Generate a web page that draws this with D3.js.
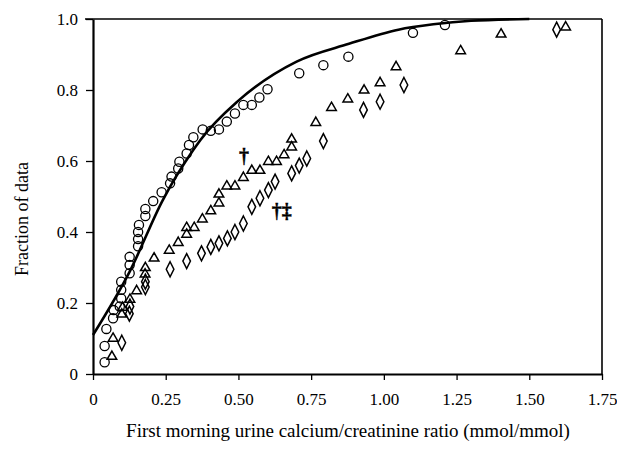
<!DOCTYPE html>
<html>
<head>
<meta charset="utf-8">
<script src="https://cdn.jsdelivr.net/npm/d3@7"></script>
<style>
  body { margin: 0; background: #fff; }
  svg { font-family: "Liberation Serif", "DejaVu Serif", serif; }
</style>
</head>
<body>
<svg id="chart" width="617" height="449"></svg>
<script>
// Data
const circleX = [0.040, 0.040, 0.046, 0.069, 0.071, 0.092, 0.097, 0.097, 0.097, 0.126, 0.126, 0.126,
  0.155, 0.155, 0.155, 0.158, 0.180, 0.180, 0.207, 0.236, 0.265, 0.270, 0.293, 0.297, 0.322, 0.330,
  0.345, 0.377, 0.405, 0.433, 0.460, 0.488, 0.517, 0.546, 0.572, 0.600, 0.709, 0.792, 0.878, 1.100, 1.210];
const circleY = [0.033, 0.079, 0.127, 0.157, 0.180, 0.190, 0.213, 0.237, 0.260, 0.284, 0.307, 0.330,
  0.360, 0.380, 0.400, 0.420, 0.445, 0.465, 0.487, 0.512, 0.537, 0.556, 0.579, 0.598, 0.621, 0.645,
  0.667, 0.689, 0.685, 0.689, 0.711, 0.734, 0.758, 0.758, 0.779, 0.802, 0.847, 0.870, 0.894, 0.961, 0.983];

const triX = [0.065, 0.069, 0.099, 0.102, 0.127, 0.150, 0.179, 0.180, 0.210, 0.262, 0.293, 0.322, 0.322,
  0.348, 0.376, 0.405, 0.433, 0.433, 0.460, 0.488, 0.517, 0.546, 0.574, 0.603, 0.631, 0.657, 0.683,
  0.683, 0.766, 0.820, 0.876, 0.932, 0.987, 1.042, 1.264, 1.403, 1.625];
const triY = [0.052, 0.103, 0.171, 0.190, 0.213, 0.237, 0.284, 0.302, 0.329, 0.351, 0.373, 0.396, 0.415,
  0.415, 0.439, 0.462, 0.484, 0.509, 0.532, 0.532, 0.556, 0.576, 0.576, 0.601, 0.601, 0.620, 0.642,
  0.664, 0.711, 0.753, 0.777, 0.802, 0.823, 0.868, 0.913, 0.960, 0.980];

const diaX = [0.099, 0.125, 0.127, 0.180, 0.180, 0.265, 0.322, 0.373, 0.405, 0.433, 0.462, 0.488, 0.517,
  0.546, 0.574, 0.603, 0.626, 0.683, 0.709, 0.735, 0.792, 0.930, 0.987, 1.069, 1.594];
const diaY = [0.088, 0.170, 0.190, 0.245, 0.260, 0.295, 0.318, 0.340, 0.358, 0.368, 0.382, 0.400, 0.424,
  0.471, 0.495, 0.518, 0.542, 0.565, 0.587, 0.607, 0.656, 0.744, 0.767, 0.814, 0.970];

const fitX = [0, 0.127, 0.240, 0.344, 0.370, 0.500, 0.700, 0.880, 1.050, 1.170, 1.300, 1.500];
const fitY = [0.110, 0.290, 0.490, 0.630, 0.660, 0.770, 0.880, 0.930, 0.970, 0.985, 0.995, 1.000];

const xTicks = [0, 0.25, 0.5, 0.75, 1.0, 1.25, 1.5, 1.75];
const xTickLabels = ["0", "0.25", "0.50", "0.75", "1.00", "1.25", "1.50", "1.75"];
const yTicks = [0, 0.2, 0.4, 0.6, 0.8, 1.0];
const yTickLabels = ["0", "0.2", "0.4", "0.6", "0.8", "1.0"];

const notes = [
  { text: "\u2020", x: 0.519, y: 0.595 },
  { text: "\u2020\u2021", x: 0.649, y: 0.44 }
];

const xLabel = "First morning urine calcium/creatinine ratio (mmol/mmol)";
const yLabel = "Fraction of data";

// Layout
const svg = d3.select('#chart');
const plot = { left: 93, right: 602, top: 19, bottom: 374 };

const x = d3.scaleLinear().domain([0, 1.75]).range([plot.left, plot.right]);
const y = d3.scaleLinear().domain([0, 1]).range([plot.bottom, plot.top]);

// frame: top and right lines
svg.append('line')
  .attr('x1', plot.left - 8).attr('x2', plot.right)
  .attr('y1', y(1)).attr('y2', y(1))
  .attr('stroke', '#000').attr('stroke-width', 1.6);
svg.append('line')
  .attr('x1', plot.right).attr('x2', plot.right)
  .attr('y1', y(1)).attr('y2', plot.bottom)
  .attr('stroke', '#000').attr('stroke-width', 1.6);

// x axis
const xAxis = svg.append('g')
  .attr('transform', `translate(0,${plot.bottom})`)
  .call(d3.axisBottom(x).tickValues(xTicks).tickSize(6).tickSizeOuter(0)
    .tickFormat((d, i) => xTickLabels[i]));
xAxis.select('.domain').attr('stroke-width', 2);
xAxis.selectAll('line').attr('stroke-width', 1.3);
xAxis.selectAll('text')
  .attr('font-family', '"Liberation Serif", serif')
  .attr('font-size', 17)
  .attr('fill', '#000')
  .attr('y', 31)
  .attr('dy', 0);

// y axis
const yAxis = svg.append('g')
  .attr('transform', `translate(${plot.left},0)`)
  .call(d3.axisLeft(y).tickValues(yTicks).tickSize(7).tickSizeOuter(0)
    .tickFormat((d, i) => yTickLabels[i]));
yAxis.select('.domain').attr('stroke-width', 2.2);
yAxis.selectAll('line').attr('stroke-width', 1.3);
yAxis.selectAll('text')
  .attr('font-family', '"Liberation Serif", serif')
  .attr('font-size', 17)
  .attr('fill', '#000')
  .attr('x', -15);

// fitted curve
const fit = fitX.map((d, i) => [d, fitY[i]]);
svg.append('path')
  .datum(fit)
  .attr('fill', 'none')
  .attr('stroke', '#000')
  .attr('stroke-width', 2.6)
  .attr('d', d3.line().x(d => x(d[0])).y(d => y(d[1])).curve(d3.curveMonotoneX));

// circles
svg.append('g').selectAll('circle')
  .data(circleX.map((d, i) => [d, circleY[i]]))
  .join('circle')
  .attr('cx', d => x(d[0]))
  .attr('cy', d => y(d[1]))
  .attr('r', 4.6)
  .attr('fill', 'none')
  .attr('stroke', '#000')
  .attr('stroke-width', 1.3);

// triangles
svg.append('g').selectAll('path')
  .data(triX.map((d, i) => [d, triY[i]]))
  .join('path')
  .attr('transform', d => `translate(${x(d[0])},${y(d[1])})`)
  .attr('d', 'M0,-4.5L4.8,3.8L-4.8,3.8Z')
  .attr('fill', 'none')
  .attr('stroke', '#000')
  .attr('stroke-width', 1.5);

// diamonds
svg.append('g').selectAll('path')
  .data(diaX.map((d, i) => [d, diaY[i]]))
  .join('path')
  .attr('transform', d => `translate(${x(d[0])},${y(d[1])})`)
  .attr('d', 'M0,-7.5L3.8,0L0,7.5L-3.8,0Z')
  .attr('fill', 'none')
  .attr('stroke', '#000')
  .attr('stroke-width', 1.5);

// significance marks
svg.append('g').selectAll('text')
  .data(notes)
  .join('text')
  .attr('x', d => x(d.x))
  .attr('y', d => y(d.y))
  .attr('text-anchor', 'middle')
  .attr('font-size', 20)
  .attr('font-weight', 'bold')
  .attr('fill', '#000')
  .attr('stroke', '#000')
  .attr('stroke-width', 0.4)
  .text(d => d.text);

// axis titles
svg.append('text')
  .attr('x', 348)
  .attr('y', 437)
  .attr('text-anchor', 'middle')
  .attr('font-size', 19)
  .attr('fill', '#000')
  .text(xLabel);

svg.append('text')
  .attr('transform', 'translate(28,219) rotate(-90)')
  .attr('text-anchor', 'middle')
  .attr('font-size', 18)
  .attr('fill', '#000')
  .text(yLabel);
</script>
</body>
</html>
